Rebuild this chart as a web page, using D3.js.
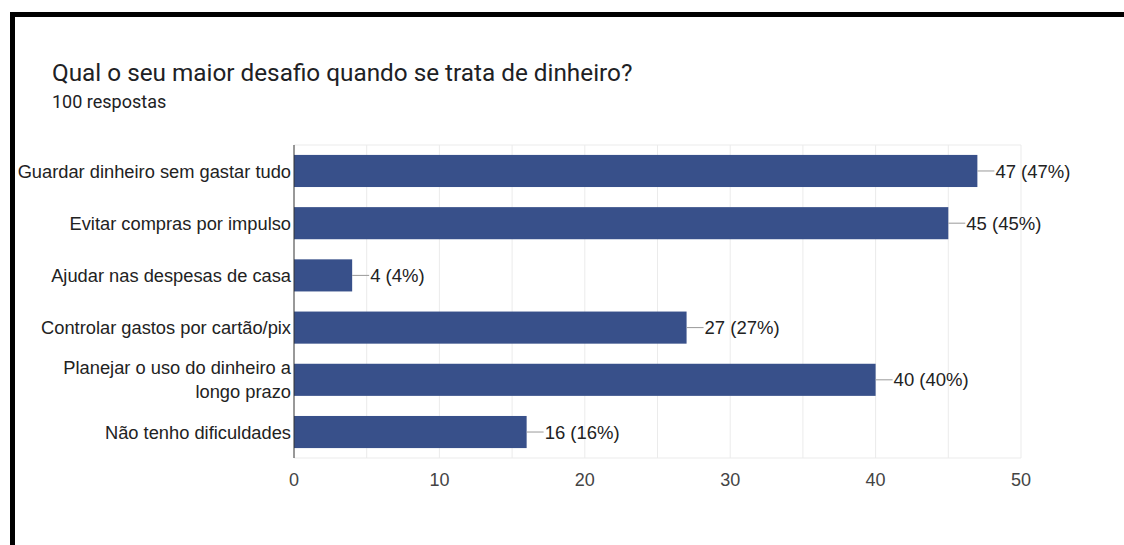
<!DOCTYPE html>
<html>
<head>
<meta charset="utf-8">
<script src="https://cdn.jsdelivr.net/npm/d3@7"></script>
<style>
  html, body { margin: 0; padding: 0; background: #fff; }
  svg { display: block; }
</style>
</head>
<body>
<svg id="chart" width="1124" height="545"></svg>
<script>
const categories = [
  ["Guardar dinheiro sem gastar tudo"],
  ["Evitar compras por impulso"],
  ["Ajudar nas despesas de casa"],
  ["Controlar gastos por cartão/pix"],
  ["Planejar o uso do dinheiro a", "longo prazo"],
  ["Não tenho dificuldades"]
];
const values = [47, 45, 4, 27, 40, 16];
const percents = ["47%", "45%", "4%", "27%", "40%", "16%"];
const tickValues = [0, 10, 20, 30, 40, 50];
const gridValues = [5, 10, 15, 20, 25, 30, 35, 40, 45, 50];
const titleText = "Qual o seu maior desafio quando se trata de dinheiro?";
const subtitleText = "100 respostas";

const svg = d3.select("#chart");
const W = 1124, H = 545;
const margin = { left: 294, right: 103, top: 145, bottom: 87 };
const plotW = W - margin.left - margin.right;
const plotH = H - margin.top - margin.bottom;

// frame
svg.append("rect").attr("x", 10).attr("y", 12).attr("width", W - 10).attr("height", 5).attr("fill", "#000");
svg.append("rect").attr("x", 10).attr("y", 12).attr("width", 5).attr("height", H - 12).attr("fill", "#000");

svg.append("text").attr("x", 52).attr("y", 81)
  .attr("font-family", "Roboto, 'Noto Sans', sans-serif").attr("font-size", 24.3)
  .attr("fill", "#202124").text(titleText);
svg.append("text").attr("x", 52).attr("y", 108)
  .attr("font-family", "Roboto, 'Noto Sans', sans-serif").attr("font-size", 18)
  .attr("fill", "#202124").text(subtitleText);

const x = d3.scaleLinear().domain([0, 50]).range([0, plotW]);
const y = d3.scaleBand().domain(d3.range(values.length)).range([0, plotH]).paddingInner(0.385).paddingOuter(0.19);

const g = svg.append("g").attr("transform", `translate(${margin.left},${margin.top})`);

// grid
g.selectAll("line.grid").data(gridValues).join("line")
  .attr("x1", d => x(d)).attr("x2", d => x(d))
  .attr("y1", 0).attr("y2", plotH)
  .attr("stroke", "#ebebeb").attr("stroke-width", 1);
g.append("line").attr("x1", 0).attr("x2", plotW).attr("y1", 0).attr("y2", 0).attr("stroke", "#ebebeb");
g.append("line").attr("x1", 0).attr("x2", plotW).attr("y1", plotH).attr("y2", plotH).attr("stroke", "#ebebeb");

// bars
g.selectAll("rect.bar").data(values).join("rect")
  .attr("x", 0).attr("y", (d, i) => y(i))
  .attr("width", d => x(d)).attr("height", y.bandwidth())
  .attr("fill", "#38508a");

// connectors & labels
g.selectAll("line.conn").data(values).join("line")
  .attr("x1", d => x(d)).attr("x2", d => x(d) + 17)
  .attr("y1", (d, i) => y(i) + y.bandwidth() / 2).attr("y2", (d, i) => y(i) + y.bandwidth() / 2)
  .attr("stroke", "#999").attr("stroke-width", 1);
g.selectAll("text.val").data(values).join("text")
  .attr("x", d => x(d) + 18).attr("y", (d, i) => y(i) + y.bandwidth() / 2)
  .attr("dy", "0.36em")
  .attr("font-family", "'Liberation Sans', Arial, sans-serif").attr("font-size", 18.5)
  .attr("fill", "#222")
  .text((d, i) => `${d} (${percents[i]})`);

// y axis line
g.append("line").attr("x1", 0).attr("x2", 0).attr("y1", 0).attr("y2", plotH).attr("stroke", "#333").attr("stroke-width", 1);

// category labels
categories.forEach((lines, i) => {
  const cy = y(i) + y.bandwidth() / 2;
  const lh = 24;
  const t = g.append("text")
    .attr("text-anchor", "end")
    .attr("font-family", "'Liberation Sans', Arial, sans-serif").attr("font-size", 18.3)
    .attr("fill", "#222");
  lines.forEach((ln, k) => {
    t.append("tspan").attr("x", -3)
      .attr("y", cy + (k - (lines.length - 1) / 2) * lh)
      .attr("dy", "0.36em").text(ln);
  });
});

// x axis ticks
g.selectAll("text.tick").data(tickValues).join("text")
  .attr("x", d => x(d)).attr("y", plotH + 28)
  .attr("text-anchor", "middle")
  .attr("font-family", "'Liberation Sans', Arial, sans-serif").attr("font-size", 18)
  .attr("fill", "#444").text(d => d);
</script>
</body>
</html>
